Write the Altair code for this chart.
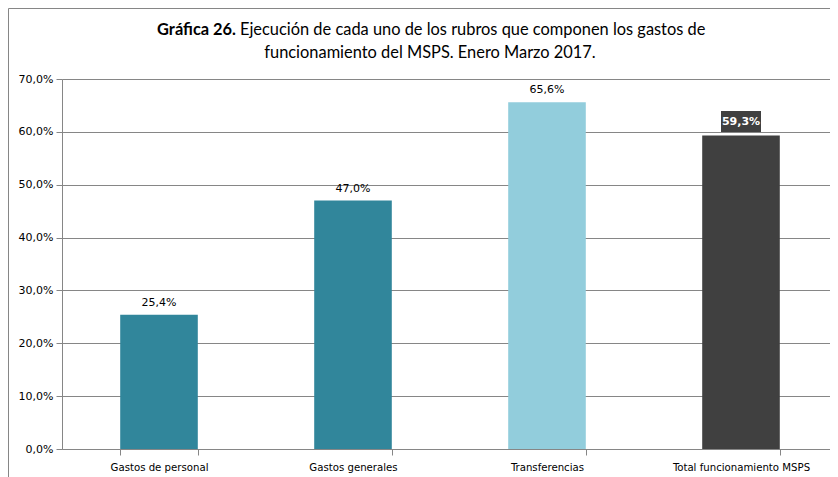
import altair as alt
import pandas as pd

categories = ["Gastos de personal", "Gastos generales", "Transferencias", "Total funcionamiento MSPS"]
values = [25.4, 47.0, 65.6, 59.3]
colors = ["#31869b", "#31869b", "#92cddc", "#404040"]
y_ticks = [0, 10, 20, 30, 40, 50, 60, 70]

df = pd.DataFrame({"cat": categories, "v": values, "col": colors})
df["lbl"] = [f"{v:.1f}".replace(".", ",") + "%" for v in values]

W, H = 768, 370
PL, PT = 54, 71

x = alt.X("cat:N", sort=categories, title=None,
          scale=alt.Scale(paddingInner=0.6, paddingOuter=0.3, range=[0, 776]),
          axis=alt.Axis(labelAngle=0, tickBand="extent", tickSize=6, tickColor="#868686",
                        domainColor="#868686", labelFont="DejaVu Sans Condensed",
                        labelFontSize=11.3, labelColor="#000000", labelPadding=6))
y = alt.Y("v:Q", title=None,
          scale=alt.Scale(domain=[0, 70], nice=False),
          axis=alt.Axis(values=y_ticks, labelExpr="replace(format(datum.value, '.1f'), '.', ',') + '%'",
                        grid=True, gridColor="#868686", tickColor="#868686", tickSize=6,
                        domainColor="#868686", labelFont="DejaVu Sans", labelFontSize=11,
                        labelColor="#000000", labelPadding=3))

base = alt.Chart(df)

bars = base.mark_bar().encode(x=x, y=y, color=alt.Color("col:N", scale=None))

labels = base.transform_filter(alt.datum.cat != "Total funcionamiento MSPS").mark_text(
    dy=-12, font="DejaVu Sans", fontSize=11, color="#000000"
).encode(x=alt.X("cat:N", sort=categories), y="v:Q", text="lbl:N")

box = base.transform_filter(alt.datum.cat == "Total funcionamiento MSPS").mark_tick(
    size=40, thickness=21, yOffset=-14, color="#404040", opacity=1
).encode(x=alt.X("cat:N", sort=categories), y="v:Q")

box_lbl = base.transform_filter(alt.datum.cat == "Total funcionamiento MSPS").mark_text(
    dy=-14, font="DejaVu Sans", fontSize=11, fontWeight="bold", color="#ffffff"
).encode(x=alt.X("cat:N", sort=categories), y="v:Q", text="lbl:N")

frame = alt.Chart(pd.DataFrame({"a": [0]})).mark_rect(
    fill=None, stroke="#868686", strokeWidth=1
).encode(x=alt.value(-PL + 0.5), x2=alt.value(W + 40), y=alt.value(-PT + 0.5), y2=alt.value(H + 60))

title_bold = alt.Chart(pd.DataFrame({"t": ["Gráfica 26."]})).mark_text(
    align="right", baseline="middle", font="Lato", fontSize=16.4, fontWeight="bold", color="#000000"
).encode(x=alt.value(174), y=alt.value(-49), text="t:N")

title_rest = alt.Chart(pd.DataFrame({"t": ["Ejecución de cada uno de los rubros que componen los gastos de"]})).mark_text(
    align="left", baseline="middle", font="Lato", fontSize=16.4, color="#000000"
).encode(x=alt.value(178), y=alt.value(-49), text="t:N")

title_2 = alt.Chart(pd.DataFrame({"t": ["funcionamiento del MSPS. Enero Marzo 2017."]})).mark_text(
    align="center", baseline="middle", font="Lato", fontSize=16.4, color="#000000"
).encode(x=alt.value(368), y=alt.value(-26), text="t:N")

chart = alt.layer(frame, bars, labels, box, box_lbl, title_bold, title_rest, title_2).properties(
    width=W, height=H,
    autosize=alt.AutoSizeParams(type="none"),
    padding={"left": PL, "top": PT, "right": 0, "bottom": 28},
).configure_view(stroke=None).configure(background="#ffffff")

chart.save("out.html", embed_options={"renderer": "svg", "actions": False})
